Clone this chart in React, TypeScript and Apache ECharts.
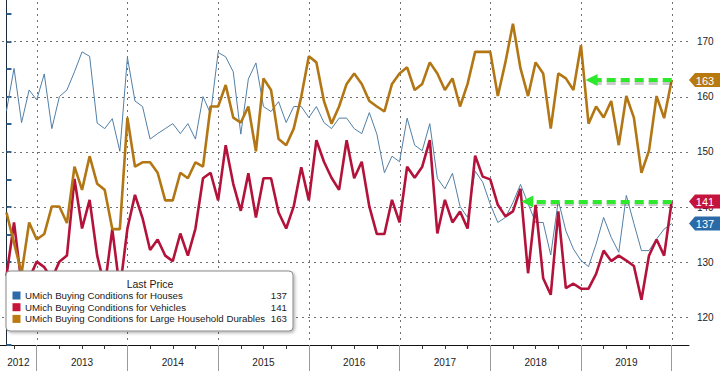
import React, { useEffect, useRef } from 'react';
import * as echarts from 'echarts';

// Monthly observations, Aug 2012 (index 0) .. Dec 2019 (index 88)
const houses = [
  157.4, 165.1, 155.3, 161.2, 159.4, 164.1, 154.2, 160.0, 161.2, 164.5, 168.1, 167.3,
  155.2, 154.2, 156.0, 150.1, 167.1, 159.2, 158.2, 152.3, 153.3, 154.2, 155.1, 153.3,
  155.1, 152.3, 160.0, 156.9, 168.0, 167.2, 164.5, 153.2, 163.2, 166.1, 158.2, 157.3,
  159.1, 155.3, 158.2, 158.2, 156.2, 158.2, 155.3, 154.2, 156.1, 156.1, 154.2, 153.3,
  157.1, 153.2, 146.2, 149.2, 148.2, 156.1, 151.2, 150.2, 155.1, 145.2, 143.3, 146.1,
  140.1, 138.1, 146.5, 144.5, 140.5, 137.2, 138.1, 140.8, 144.1, 140.6, 137.2, 137.2,
  131.3, 141.2, 135.7, 132.4, 130.3, 129.2, 133.3, 138.1, 134.5, 131.8, 142.1, 137.0,
  132.1, 132.1, 134.2, 136.0, 137.0,
];
const vehicles = [
  127.5, 137.2, 126.0, 127.0, 130.1, 129.1, 127.0, 130.1, 131.2, 145.1, 136.1, 141.3,
  131.2, 125.5, 136.0, 125.0, 136.1, 142.2, 138.0, 132.2, 134.1, 131.2, 130.2, 135.2,
  131.2, 136.1, 145.2, 146.2, 141.2, 151.2, 144.2, 139.3, 146.1, 138.1, 145.2, 145.2,
  139.0, 136.1, 140.1, 147.2, 141.2, 152.1, 148.2, 145.3, 143.1, 152.1, 145.2, 148.2,
  140.1, 135.1, 135.1, 141.3, 137.2, 147.3, 145.3, 147.3, 152.1, 135.2, 141.3, 137.2,
  139.2, 136.1, 149.3, 145.5, 145.0, 140.4, 138.3, 139.2, 143.3, 128.0, 140.4, 127.1,
  124.1, 139.2, 125.3, 126.1, 125.2, 125.2, 127.9, 132.1, 130.2, 131.2, 130.3, 129.3,
  123.2, 131.2, 134.1, 131.2, 141.0,
];
const durables = [
  139.0, 133.5, 128.0, 137.2, 134.1, 135.1, 140.1, 140.1, 137.1, 147.3, 143.1, 149.2,
  144.2, 143.1, 136.0, 136.0, 156.2, 147.3, 148.1, 148.1, 146.2, 141.2, 141.2, 146.2,
  145.2, 148.1, 147.3, 158.2, 158.2, 162.1, 156.2, 155.3, 158.2, 150.1, 163.3, 161.2,
  152.3, 151.2, 154.2, 160.0, 167.3, 166.2, 159.2, 155.1, 158.2, 162.3, 164.2, 162.3,
  159.2, 158.2, 157.3, 162.3, 164.2, 165.3, 161.2, 162.3, 166.2, 164.2, 161.2, 163.3,
  158.2, 162.3, 168.1, 168.1, 168.1, 160.1, 166.2, 173.2, 165.1, 160.1, 166.2, 164.2,
  154.2, 164.2, 163.3, 161.2, 169.3, 155.1, 158.2, 156.2, 159.2, 151.2, 160.1, 156.2,
  146.2, 150.2, 160.1, 156.1, 163.0,
];

const seriesNames = [
  'UMich Buying Conditions for Houses',
  'UMich Buying Conditions for Vehicles',
  'UMich Buying Conditions for Large Household Durables',
];
const lastPrices = [137, 141, 163];
const legendTitle = 'Last Price';

const years = ['2012', '2013', '2014', '2015', '2016', '2017', '2018', '2019'];
const yearLabelPos = [1.57, 10, 22, 34, 46, 58, 70, 82];
const yearBoundaries = [4, 16, 28, 40, 52, 64, 76, 88];
const yLabels = [120, 130, 140, 150, 160, 170];
const yMinorTicks = [115, 120, 125, 130, 135, 140, 145, 150, 155, 160, 165, 170, 175];

const X_MIN = -0.855;
const X_MAX = 90.29;
const Y_MIN = 115;
const Y_MAX = 177.5;
const ARROW_TIPS = [77.4, 68.9]; // x positions (months) of arrow heads for durables / vehicles

const quarterTicks: number[] = [];
for (let q = 1; q <= 88; q += 3) quarterTicks.push(q);

const C_HOUSES = '#527fa6';
const C_VEHICLES = '#b3123a';
const C_DURABLES = '#b27714';
const C_GREEN = '#2ee82e';
const C_GRID_DOT = '#707070';
const TAG_COLORS = ['#2a6aa6', '#c4143e', '#b8790f'];
const SWATCH_COLORS = ['#2c6aa8', '#c8143c', '#bd7a12'];
const FONT = '"Liberation Sans", Arial, sans-serif';

function arrowMarkLine(value: number, tip: number) {
  return {
    silent: true,
    label: { show: false },
    emphasis: { disabled: true },
    data: [
      [
        { coord: [88, value - 0.45], symbol: 'none', lineStyle: { color: 'rgba(60,60,60,0.28)', width: 4, type: [9, 5] } },
        { coord: [tip + 0.3, value - 0.45], symbol: 'none' },
      ],
      [
        { coord: [88, value], symbol: 'none', lineStyle: { color: C_GREEN, width: 4, type: [9, 5] } },
        { coord: [tip, value], symbol: 'triangle', symbolSize: 12 },
      ],
    ],
    lineStyle: { color: C_GREEN, width: 4, type: [9, 5], opacity: 1 },
    itemStyle: { color: C_GREEN },
  };
}

export default function App() {
  const ref = useRef<HTMLDivElement>(null);
  useEffect(() => {
    const chart = echarts.init(ref.current!, null, { renderer: 'svg' });
    const pts = (arr: number[]) => arr.map((v, i) => [i, v]);
    // [orientation (0 = horizontal, 1 = vertical), axis value]
    const gridItems = [
      ...yLabels.map((v) => [0, v]),
      ...yearBoundaries.map((v) => [1, v]),
    ];
    const option: any = {
      animation: false,
      grid: { left: 0, right: 31, top: 0, bottom: 26 },
      xAxis: [
        {
          type: 'value', min: X_MIN, max: X_MAX, position: 'bottom',
          axisLine: { show: true, lineStyle: { color: '#111', width: 1 } },
          axisTick: { show: true, customValues: quarterTicks, length: 4, lineStyle: { color: '#333' } },
          axisLabel: {
            show: true, customValues: yearLabelPos, margin: 12, fontSize: 10, color: '#222', fontFamily: FONT,
            formatter: (v: number) => {
              const k = yearLabelPos.findIndex((p) => Math.abs(p - v) < 0.01);
              return k >= 0 ? years[k] : '';
            },
          },
          splitLine: { show: false },
        },
        {
          type: 'value', min: X_MIN, max: X_MAX, position: 'bottom',
          axisLine: { show: false },
          axisTick: { show: true, customValues: yearBoundaries, length: 26, lineStyle: { color: '#9a9a9a' } },
          axisLabel: { show: false },
          splitLine: { show: false },
        },
      ],
      yAxis: {
        type: 'value', position: 'right', min: Y_MIN, max: Y_MAX,
        axisLine: { show: true, lineStyle: { color: '#1c2b3a', width: 1 } },
        axisTick: { show: true, customValues: yMinorTicks, length: 5, lineStyle: { color: '#2e5f8e', width: 2 } },
        axisLabel: { show: true, customValues: yLabels, margin: 8, fontSize: 10, color: '#222', fontFamily: FONT },
        splitLine: { show: false },
      },
      series: [
        {
          name: 'gridlines', type: 'custom', silent: true, z: 1, clip: false,
          data: gridItems,
          renderItem: (params: any, api: any) => {
            const kind = api.value(0);
            const v = api.value(1);
            const p1 = kind === 0 ? api.coord([X_MIN, v]) : api.coord([v, Y_MAX]);
            const p2 = kind === 0 ? api.coord([X_MAX, v]) : api.coord([v, Y_MIN]);
            const dots: any[] = [];
            const STEP = 6;
            if (kind === 0) {
              const y = Math.round(p1[1]);
              for (let x = Math.round(p1[0]) + 2; x < p2[0] - 1; x += STEP) {
                dots.push({ type: 'rect', shape: { x, y, width: 2, height: 1 }, style: { fill: C_GRID_DOT } });
              }
            } else {
              const x = Math.round(p1[0]);
              for (let y = Math.round(p1[1]) + 2; y < p2[1] - 1; y += STEP) {
                dots.push({ type: 'rect', shape: { x, y, width: 1, height: 2 }, style: { fill: C_GRID_DOT } });
              }
            }
            return { type: 'group', children: dots };
          },
        },
        {
          name: seriesNames[0], type: 'line', data: pts(houses), showSymbol: false, z: 2,
          lineStyle: { color: C_HOUSES, width: 1 }, itemStyle: { color: C_HOUSES },
        },
        {
          name: seriesNames[1], type: 'line', data: pts(vehicles), showSymbol: false, z: 3,
          lineStyle: { color: C_VEHICLES, width: 2.6 }, itemStyle: { color: C_VEHICLES },
          markLine: arrowMarkLine(lastPrices[1], ARROW_TIPS[1]),
        },
        {
          name: seriesNames[2], type: 'line', data: pts(durables), showSymbol: false, z: 4,
          lineStyle: { color: C_DURABLES, width: 2.6 }, itemStyle: { color: C_DURABLES },
          markLine: arrowMarkLine(lastPrices[2], ARROW_TIPS[0]),
        },
      ],
    };
    chart.setOption(option);

    const ax = chart.convertToPixel({ xAxisIndex: 0 }, X_MAX) as number;
    const tags: any[] = lastPrices.map((v, k) => {
      const y = chart.convertToPixel({ yAxisIndex: 0 }, v) as number;
      return {
        type: 'group', z: 200,
        children: [
          {
            type: 'polygon', z: 200,
            shape: { points: [[ax, y], [ax + 6, y - 7], [720, y - 7], [720, y + 7], [ax + 6, y + 7]] },
            style: { fill: TAG_COLORS[k] },
          },
          {
            type: 'text', z: 201, x: ax + 16, y: y + 0.5,
            style: { text: String(v), fill: '#fff', fontSize: 11, fontFamily: FONT, align: 'center', verticalAlign: 'middle' },
          },
        ],
      };
    });

    const lx = 6, ly = 271, lw = 287, lh = 60;
    const legend: any[] = [
      {
        type: 'rect', z: 150,
        shape: { x: lx, y: ly, width: lw, height: lh, r: 4 },
        style: { fill: '#fff', stroke: '#8a8a8a', lineWidth: 1, shadowBlur: 3, shadowColor: 'rgba(0,0,0,0.3)', shadowOffsetX: 1.5, shadowOffsetY: 1.5 },
      },
      {
        type: 'text', z: 151, x: 150, y: 284,
        style: { text: legendTitle, fill: '#1a1a1a', fontSize: 10.5, fontFamily: FONT, align: 'center', verticalAlign: 'middle' },
      },
    ];
    seriesNames.forEach((name, k) => {
      const cy = 295.5 + k * 11.7;
      legend.push(
        { type: 'rect', z: 151, shape: { x: 12.5, y: cy - 4, width: 8, height: 8 }, style: { fill: SWATCH_COLORS[k] } },
        { type: 'text', z: 151, x: 25, y: cy, style: { text: name, fill: '#1a1a1a', fontSize: 9.7, fontFamily: FONT, align: 'left', verticalAlign: 'middle' } },
        { type: 'text', z: 151, x: 287, y: cy, style: { text: String(lastPrices[k]), fill: '#1a1a1a', fontSize: 9.7, fontFamily: FONT, align: 'right', verticalAlign: 'middle' } },
      );
    });

    chart.setOption({ graphic: [...legend, ...tags] });
    return () => chart.dispose();
  }, []);
  return <div ref={ref} style={{ position: 'absolute', left: 0, top: 0, width: 720, height: 371 }} />;
}
